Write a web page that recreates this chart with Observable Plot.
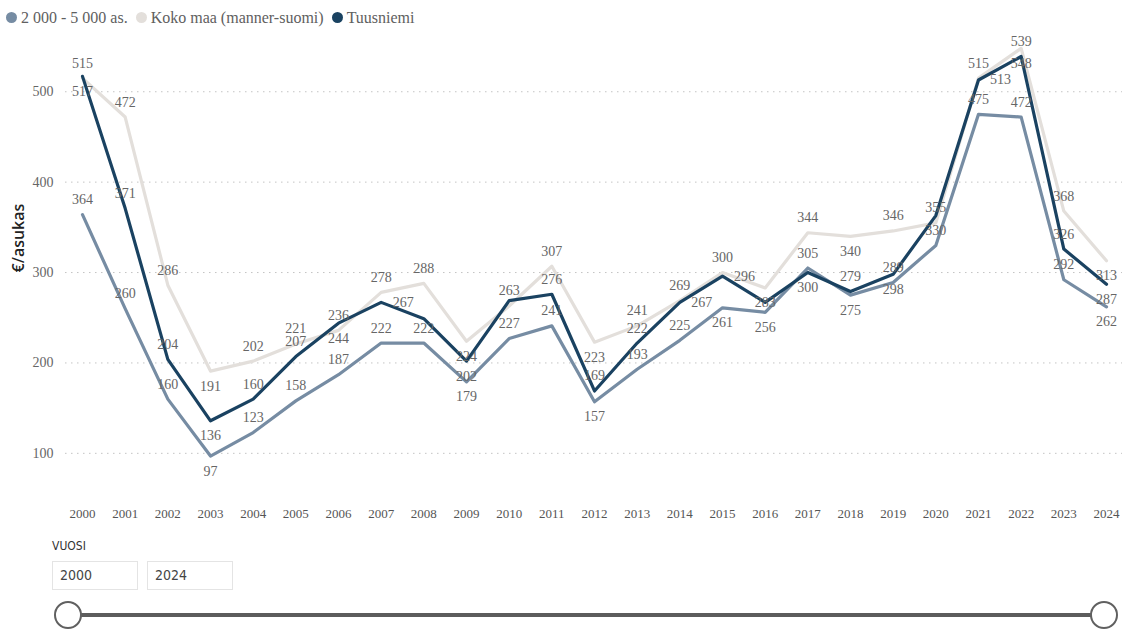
<!DOCTYPE html>
<html>
<head>
<meta charset="utf-8">
<script src="https://cdn.jsdelivr.net/npm/d3@7"></script>
<script src="https://cdn.jsdelivr.net/npm/@observablehq/plot@0.6"></script>
<style>
  html, body { margin: 0; padding: 0; background: #fff; }
  body { width: 1122px; height: 630px; overflow: hidden; position: relative; font-family: "Liberation Serif", serif; }
  #legend { position: absolute; left: 6px; top: 0; height: 35px; display: flex; align-items: center; gap: 8px; font-size: 16px; color: #606060; }
  #legend .item { display: inline-flex; align-items: center; gap: 4px; }
  #legend .dot { width: 11px; height: 11px; border-radius: 50%; display: inline-block; }
  #chart { position: absolute; left: 0; top: 35px; }
  #vuosi { position: absolute; left: 52px; top: 539px; font-family: "Liberation Sans Narrow", "DejaVu Sans Condensed", sans-serif; font-size: 12px; color: #333; }
  .box { position: absolute; top: 561px; width: 86px; height: 29px; box-sizing: border-box; border: 1px solid #e4e4e4; font-family: "Liberation Sans Narrow", "DejaVu Sans Condensed", sans-serif; font-size: 14px; color: #444; line-height: 27px; padding-left: 7px; }
  #track { position: absolute; left: 68px; top: 613px; width: 1036px; height: 4px; background: #5c5c5c; }
  .knob { position: absolute; top: 601px; width: 28px; height: 28px; box-sizing: border-box; border-radius: 50%; background: #fff; border: 2px solid #606060; }
</style>
</head>
<body>
<div id="legend"></div>
<div id="chart"></div>
<div id="vuosi">VUOSI</div>
<div class="box" style="left:52px">2000</div>
<div class="box" style="left:147px">2024</div>
<div id="track"></div>
<div class="knob" style="left:54px"></div>
<div class="knob" style="left:1090px"></div>
<script>
// ---- data ----
const years = [2000, 2001, 2002, 2003, 2004, 2005, 2006, 2007, 2008, 2009, 2010, 2011, 2012,
               2013, 2014, 2015, 2016, 2017, 2018, 2019, 2020, 2021, 2022, 2023, 2024];
const seriesNames = ["2 000 - 5 000 as.", "Koko maa (manner-suomi)", "Tuusniemi"];
const small = [364, 260, 160, 97, 123, 158, 187, 222, 222, 179, 227, 241, 157,
               193, 225, 261, 256, 305, 275, 289, 330, 475, 472, 292, 262];
const koko  = [515, 472, 286, 191, 202, 221, 236, 278, 288, 224, 263, 307, 223,
               241, 269, 300, 283, 344, 340, 346, 355, 515, 548, 368, 313];
const tuus  = [517, 371, 204, 136, 160, 207, 244, 267, 249, 202, 269, 276, 169,
               222, 267, 296, 267, 300, 279, 298, 363, 513, 539, 326, 287];
const yTicks = [100, 200, 300, 400, 500];
const yLabel = "€/asukas";
const colors = ["#768ca3", "#e3dfdb", "#1a4261"];

// ---- legend ----
const legend = document.getElementById("legend");
seriesNames.forEach((n, i) => {
  const it = document.createElement("span");
  it.className = "item";
  const dot = document.createElement("span");
  dot.className = "dot";
  dot.style.background = colors[i];
  it.appendChild(dot);
  it.appendChild(document.createTextNode(n));
  legend.appendChild(it);
});

// ---- tidy table ----
const valuesBySeries = [small, koko, tuus];
const rows = [];
seriesNames.forEach((s, si) => years.forEach((yr, i) => rows.push({series: s, year: yr, value: valuesBySeries[si][i]})));

// ---- layout ----
const W = 1122, H = 490, mT = 2, mB = 36, mL = 82, mR = 16;
const yLo = 60, yHi = 560;
const py = v => mT + (yHi - v) / (yHi - yLo) * (H - mT - mB);
const px = yr => mL + (yr - years[0]) / (years[years.length - 1] - years[0]) * (W - mL - mR);

// ---- label placement (avoid collisions, hide when no room) ----
const labelOrder = [1, 0, 2]; // Koko maa, small, Tuusniemi
const OFF = 15, DX = 22;
const placed = [];
const labels = [];
years.forEach((yr, i) => {
  labelOrder.forEach(si => {
    const vals = valuesBySeries[si];
    const v = vals[i];
    const nb = [vals[i - 1], vals[i + 1]].filter(d => d !== undefined);
    const isMin = nb.every(n => v < n);
    const order = isMin ? ["below", "above", "right"] : ["above", "below", "right"];
    const text = String(v);
    const w = text.length * 7;
    for (const pos of order) {
      const cx = px(yr) + (pos === "right" ? DX : 0);
      const cy = py(v) + (pos === "above" ? -OFF : pos === "below" ? OFF : 0);
      if (cy < 4) continue;
      const hit = pos === "right"
        ? placed.some(b => Math.abs(b.cx - cx) < 24 && Math.abs(b.cy - cy) < 16)
        : placed.some(b => Math.abs(b.cx - cx) < (b.w + w) / 2 && Math.abs(b.cy - cy) < 12);
      if (!hit) { placed.push({cx, cy, w}); labels.push({year: yr, value: v, text, pos}); break; }
    }
  });
});

const labelStyle = {x: "year", y: "value", text: "text", fill: "#666", fontSize: 14, fontFamily: "Liberation Serif"};

const chart = Plot.plot({
  width: W, height: H,
  marginTop: mT, marginBottom: mB, marginLeft: mL, marginRight: mR,
  style: {fontFamily: "Liberation Serif", fontSize: "14px", color: "#666", overflow: "visible", background: "transparent"},
  x: {domain: [years[0], years[years.length - 1]]},
  y: {domain: [yLo, yHi]},
  color: {domain: seriesNames, range: colors},
  marks: [
    Plot.gridY(yTicks, {stroke: "#c4c4c4", strokeOpacity: 1, strokeDasharray: "1.5,4.5", insetLeft: -17, insetRight: -16}),
    Plot.axisY({ticks: yTicks, tickSize: 0, tickPadding: 29, label: null, fontSize: 14, fill: "#666"}),
    Plot.axisX({ticks: years, tickFormat: d => String(d), tickSize: 0, tickPadding: 19, label: null, fontSize: 13, fill: "#555"}),
    Plot.text([yLabel], {frameAnchor: "left", text: d => d, rotate: -90, dx: -64, dy: 9, fontSize: 16, fontFamily: "Open Sans", fontWeight: 600, fill: "#222"}),
    Plot.line(rows, {x: "year", y: "value", z: "series", stroke: "series", strokeWidth: 3.2, strokeLinejoin: "round", strokeLinecap: "round"}),
    Plot.text(labels.filter(d => d.pos === "above"), {...labelStyle, dy: -OFF}),
    Plot.text(labels.filter(d => d.pos === "below"), {...labelStyle, dy: OFF}),
    Plot.text(labels.filter(d => d.pos === "right"), {...labelStyle, dx: DX})
  ]
});
document.getElementById("chart").appendChild(chart);
</script>
</body>
</html>
